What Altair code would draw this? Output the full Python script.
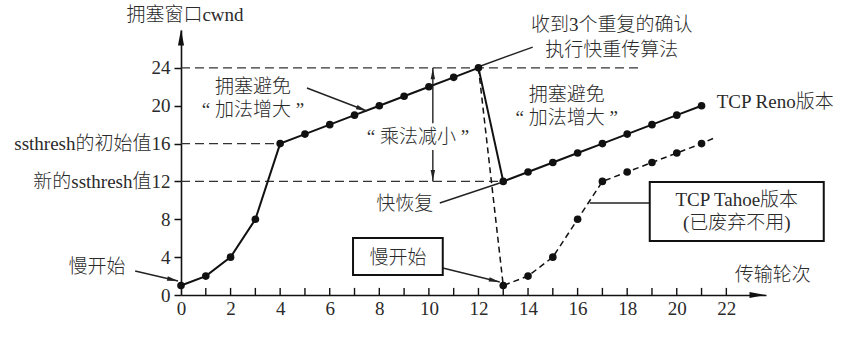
import math
import altair as alt
import pandas as pd

# ---------------- data ----------------
reno_round = list(range(22))
reno_cwnd = [1, 2, 4, 8, 16, 17, 18, 19, 20, 21, 22, 23, 24, 12, 13, 14, 15, 16, 17, 18, 19, 20]
tahoe_round = [12, 13, 14, 15, 16, 17, 18, 19, 20, 21]
tahoe_cwnd = [24, 1, 2, 4, 8, 12, 13, 14, 15, 16]
tahoe_point_round = [13, 14, 15, 16, 17, 18, 19, 20, 21]
tahoe_point_cwnd = [1, 2, 4, 8, 12, 13, 14, 15, 16]
tahoe_tail_round = [21.6]
tahoe_tail_cwnd = [16.7]

x_label_values = list(range(0, 23, 2))
x_minor_ticks = list(range(1, 23))
y_tick_values = [0, 4, 8, 12, 16, 20, 24]
y_tick_labels = ["0", "4", "8", "新的ssthresh值12", "ssthresh的初始值16", "20", "24"]

thresh_level = [24, 16, 12]
thresh_end = [18.6, 4, 13]

# ---------------- layout ----------------
X_DOMAIN = [0, 23.6]
Y_DOMAIN = [0, 28]
W, H = 585, 265
PX = W / (X_DOMAIN[1] - X_DOMAIN[0])
PY = H / (Y_DOMAIN[1] - Y_DOMAIN[0])
FONT = "Liberation Serif, Noto Sans CJK SC"
FS = 19
INK = "#111111"
TXT = "#2a2a2a"

label_expr = " : ".join(
    f"datum.value == {v} ? '{l}'" for v, l in zip(y_tick_values, y_tick_labels)
) + " : datum.label"

x_axis = alt.Axis(values=x_label_values, ticks=False, grid=False, title=None,
                  domainColor=INK, domainWidth=1.6, labelFont=FONT, labelFontSize=FS,
                  labelColor=TXT, labelPadding=4, labelFlush=False, labelOverlap=False,
                  labelFontWeight=300)
y_axis = alt.Axis(values=y_tick_values, labelExpr=label_expr, tickSize=7, tickWidth=1.5,
                  tickColor=INK, grid=False, title=None, domainColor=INK, domainWidth=1.6,
                  labelFont=FONT, labelFontSize=FS, labelColor=TXT, labelPadding=4,
                  labelFlush=False, labelOverlap=False, labelFontWeight=300)
xs = alt.Scale(domain=X_DOMAIN, nice=False, zero=False)
ys = alt.Scale(domain=Y_DOMAIN, nice=False, zero=False)


def X(f="x"):
    return alt.X(f"{f}:Q", scale=xs, axis=x_axis)


def Y(f="y"):
    return alt.Y(f"{f}:Q", scale=ys, axis=y_axis)


# ---------------- helpers ----------------
def head(x_tip, y_tip, x_from, y_from, length):
    dxp = (x_tip - x_from) * PX
    dyp = (y_tip - y_from) * PY
    n = math.hypot(dxp, dyp)
    ang = math.degrees(math.atan2(dxp, dyp)) % 360
    cx = x_tip - dxp / n * (length / 2) / PX
    cy = y_tip - dyp / n * (length / 2) / PY
    return {"x": cx, "y": cy, "angle": ang}


# ---------------- layers ----------------
thresh_df = pd.DataFrame({"x": [0] * 3, "x2": thresh_end, "y": thresh_level})
thresh = alt.Chart(thresh_df).mark_rule(color="#333", strokeWidth=1.3, strokeDash=[9, 5]).encode(
    x=X(), x2="x2:Q", y=Y())

ticks_df = pd.DataFrame({"x": x_minor_ticks, "y": [0] * len(x_minor_ticks), "y2": [0.75] * len(x_minor_ticks)})
ticks = alt.Chart(ticks_df).mark_rule(color=INK, strokeWidth=1.4).encode(x=X(), y=Y(), y2="y2:Q")

reno_df = pd.DataFrame({"x": reno_round, "y": reno_cwnd})
reno_line = alt.Chart(reno_df).mark_line(color=INK, strokeWidth=2).encode(x=X(), y=Y())
reno_pts = alt.Chart(reno_df).mark_circle(color=INK, size=58, opacity=1).encode(x=X(), y=Y())

tahoe_df = pd.DataFrame({"x": tahoe_round + tahoe_tail_round, "y": tahoe_cwnd + tahoe_tail_cwnd})
tahoe_line = alt.Chart(tahoe_df).mark_line(color=INK, strokeWidth=1.5, strokeDash=[6, 4]).encode(x=X(), y=Y())
tahoe_pts_df = pd.DataFrame({"x": tahoe_point_round, "y": tahoe_point_cwnd})
tahoe_pts = alt.Chart(tahoe_pts_df).mark_circle(color=INK, size=58, opacity=1).encode(x=X(), y=Y())

# annotation lines (x, y) -> (x2, y2)
ann_lines = [
    (-1.85, 2.54, -0.12, 1.48),       # 慢开始 (left)
    (5.08, 21.87, 7.50, 19.44),       # 拥塞避免 (left)
    (10.16, 24.0, 10.16, 18.16),      # 乘法减小 upper
    (10.16, 15.31, 10.16, 12.0),      # 乘法减小 lower
    (11.98, 24.09, 14.19, 26.20),     # 快重传
    (10.44, 9.72, 12.86, 11.83),      # 快恢复
    (10.56, 2.85, 12.86, 1.37),       # 慢开始 box
    (16.49, 9.72, 18.91, 9.72),       # Tahoe box
]
al_df = pd.DataFrame(ann_lines, columns=["x", "y", "x2", "y2"])
al = alt.Chart(al_df).mark_rule(color="#222", strokeWidth=1.4).encode(
    x=X(), y=Y(), x2="x2:Q", y2="y2:Q")

heads = pd.DataFrame([
    head(-0.12, 1.48, -1.85, 2.54, 11),
    head(7.50, 19.44, 5.08, 21.87, 11),
    head(10.16, 24.0, 10.16, 18.16, 12),
    head(10.16, 12.0, 10.16, 15.31, 12),
    head(12.86, 1.37, 10.56, 2.85, 11),
])
ann_heads = alt.Chart(heads).mark_point(
    shape="M0,-1L0.4,1L-0.4,1Z", filled=True, color="#222", size=121, opacity=1
).encode(x=X(), y=Y(), angle=alt.Angle("angle:Q", scale=None))

axis_heads = pd.DataFrame([
    head(X_DOMAIN[0], Y_DOMAIN[1], X_DOMAIN[0], 0, 15),
    head(X_DOMAIN[1], 0, 0, 0, 17),
])
ax_heads = alt.Chart(axis_heads).mark_point(
    shape="M0,-1L0.38,1L-0.38,1Z", filled=True, color=INK, size=256, opacity=1
).encode(x=X(), y=Y(), angle=alt.Angle("angle:Q", scale=None))

boxes_df = pd.DataFrame({"x": [6.94, 18.91], "x2": [10.56, 25.93], "y": [6.02, 11.94], "y2": [2.11, 5.71]})
boxes = alt.Chart(boxes_df).mark_rect(fill="white", stroke=INK, strokeWidth=2).encode(
    x=X(), x2="x2:Q", y=Y(), y2="y2:Q")

texts_c = pd.DataFrame([
    (0.16, 29.59, "拥塞窗口cwnd"),
    (23.87, 2.11, "传输轮次"),
    (-3.39, 2.96, "慢开始"),
    (2.90, 21.98, "拥塞避免"),
    (2.90, 19.55, "“ 加法增大 ”"),
    (9.56, 16.69, "“ 乘法减小 ”"),
    (17.38, 28.53, "收到3个重复的确认"),
    (17.38, 25.89, "执行快重传算法"),
    (15.56, 21.13, "拥塞避免"),
    (15.56, 18.70, "“ 加法增大 ”"),
    (9.03, 9.62, "快恢复"),
    (8.75, 3.91, "慢开始"),
    (22.42, 10.04, "TCP Tahoe版本"),
    (22.42, 7.61, "(已废弃不用)"),
], columns=["x", "y", "t"])
tc = alt.Chart(texts_c).mark_text(font=FONT, fontSize=FS, fontWeight=300, color=TXT,
                                   align="center", baseline="middle").encode(
    x=X(), y=Y(), text="t:N")

texts_l = pd.DataFrame([(21.61, 20.39, "TCP Reno版本")], columns=["x", "y", "t"])
tl = alt.Chart(texts_l).mark_text(font=FONT, fontSize=FS, fontWeight=300, color=TXT,
                                   align="left", baseline="middle").encode(
    x=X(), y=Y(), text="t:N")

chart = alt.layer(
    thresh, ticks, tahoe_line, reno_line, al, ann_heads, ax_heads, tahoe_pts, reno_pts, boxes, tc, tl
).properties(
    width=W, height=H,
    autosize=alt.AutoSizeParams(type="none"),
    padding={"left": 181, "top": 30, "right": 848 - 181 - W, "bottom": 356 - 30 - H},
    background="white",
).configure_view(stroke=None)

chart.save("out.html", embed_options={"renderer": "svg", "actions": False})
